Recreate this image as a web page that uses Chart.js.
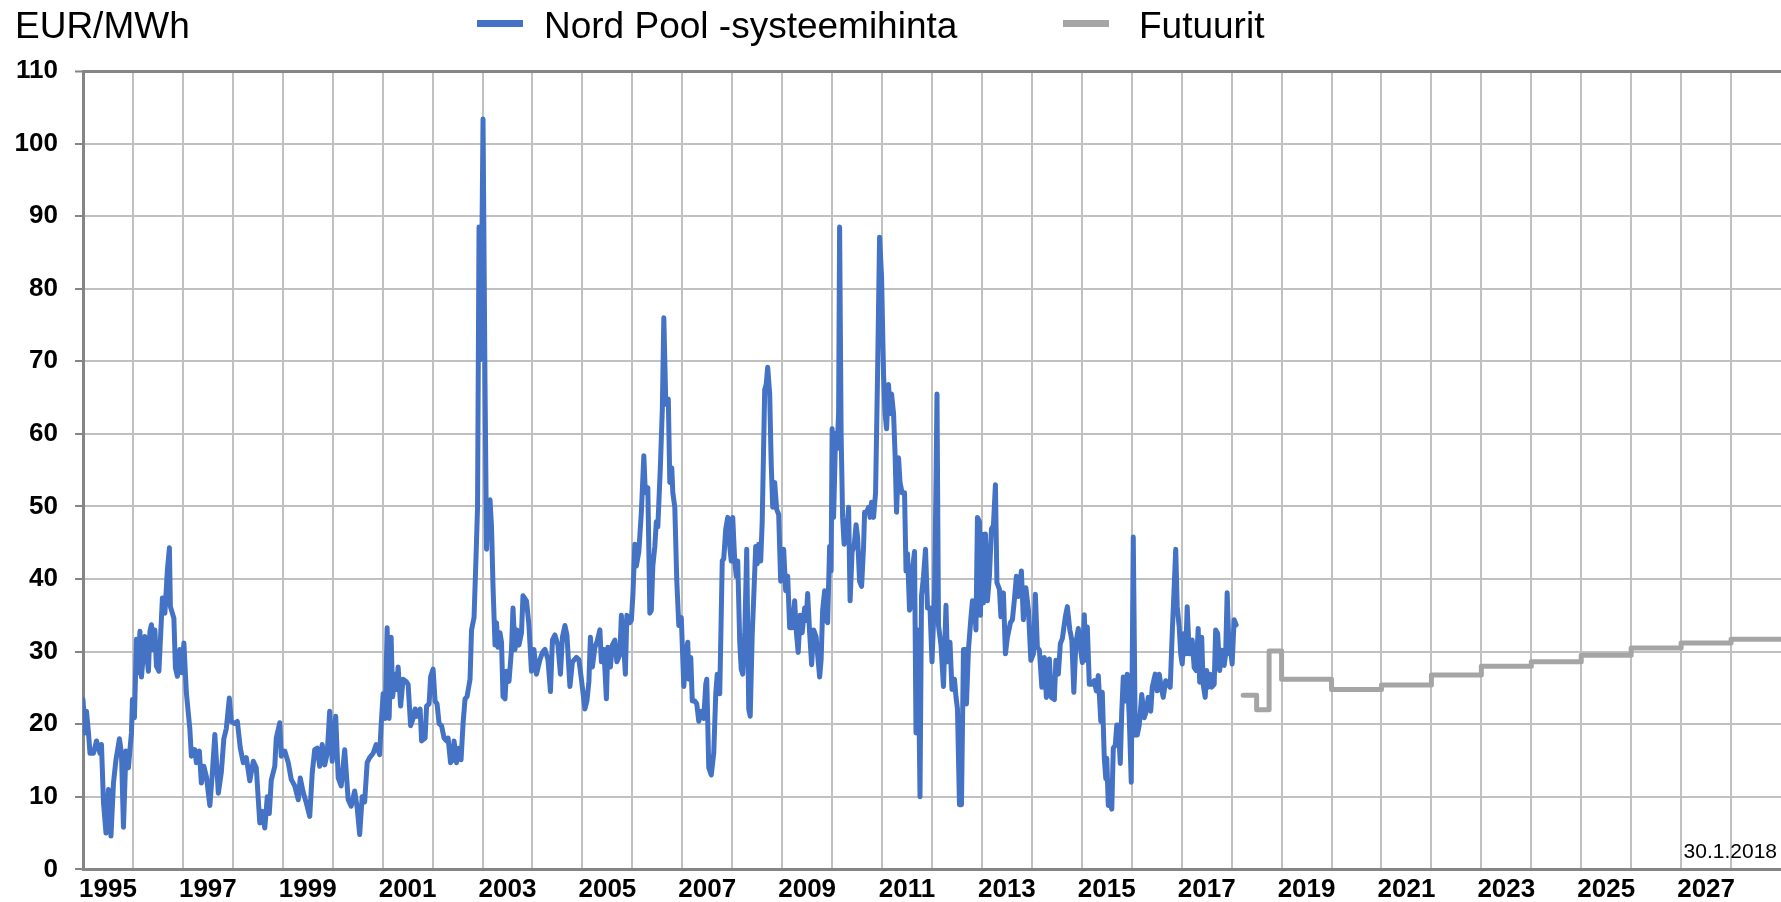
<!DOCTYPE html>
<html>
<head>
<meta charset="utf-8">
<script src="https://cdn.jsdelivr.net/npm/chart.js@4.4.1/dist/chart.umd.min.js"></script>
<style>
  body { margin: 0; background: #fff; }
  #wrap { position: relative; width: 1781px; height: 902px; font-family: 'Liberation Sans', Arial, sans-serif; }
  #chart { position: absolute; left: 0; top: 0; }
  .txt { position: absolute; white-space: nowrap; color: #000; }
  .big { font-size: 37px; line-height: 37px; top: 7px; }
  .swatch { position: absolute; top: 20px; width: 46px; height: 7px; }
  #date { font-size: 21px; line-height: 21px; top: 840px; right: 4px; }
</style>
</head>
<body>
<div id="wrap">
  <canvas id="chart" width="1781" height="902"></canvas>
  <div class="txt big" id="unit" style="left:15px">EUR/MWh</div>
  <div class="swatch" id="sw0" style="left:477px"></div>
  <div class="txt big" id="lg0" style="left:544px"></div>
  <div class="swatch" id="sw1" style="left:1063px"></div>
  <div class="txt big" id="lg1" style="left:1139px"></div>
  <div class="txt" id="date">30.1.2018</div>
</div>
<script>
// Series names and colours
const seriesNames = ['Nord Pool -systeemihinta', 'Futuurit'];
const seriesColors = ['#4472c4', '#a5a5a5'];

// Axis ticks
const yTicks = [0, 10, 20, 30, 40, 50, 60, 70, 80, 90, 100, 110];
const gridYears = [1995, 1996, 1997, 1998, 1999, 2000, 2001, 2002, 2003, 2004, 2005, 2006, 2007, 2008, 2009, 2010, 2011,
  2012, 2013, 2014, 2015, 2016, 2017, 2018, 2019, 2020, 2021, 2022, 2023, 2024, 2025, 2026, 2027, 2028];
const xTickLabels = ['1995', '1997', '1999', '2001', '2003', '2005', '2007', '2009', '2011', '2013', '2015', '2017',
  '2019', '2021', '2023', '2025', '2027'];

// Nord Pool system price, [year, EUR/MWh]
const spot1995 = [
  [1995.00,23.4],[1995.04,18.8],[1995.07,21.8],[1995.11,18.8],[1995.14,16.0],[1995.21,16.0],[1995.27,17.7],[1995.34,16.0],
  [1995.37,17.2],[1995.41,9.2],[1995.46,5.0],[1995.51,11.0],[1995.56,4.6],[1995.61,11.9],[1995.66,15.1],[1995.73,18.0],
  [1995.77,16.0],[1995.81,5.8],[1995.86,16.3],[1995.91,14.0],[1995.94,16.5],[1995.97,18.8],[1995.99,23.4],[1996.03,20.9],
  [1996.07,31.7],[1996.11,27.1],[1996.14,32.8],[1996.17,26.5],[1996.24,32.1],[1996.31,27.3],[1996.34,32.8],[1996.37,33.7],
  [1996.41,30.3],[1996.44,33.0],[1996.47,28.0],[1996.52,27.3],[1996.59,37.4],[1996.64,35.3],[1996.69,41.3],[1996.73,44.3],
  [1996.75,36.2],[1996.82,34.6],[1996.85,27.8],[1996.89,26.6],[1996.94,30.3],[1996.98,27.1],[1997.02,31.2],[1997.07,24.3],
  [1997.14,19.3],[1997.17,15.6],[1997.24,16.5],[1997.27,14.7],[1997.33,16.3],[1997.37,11.9],[1997.42,14.2],[1997.47,12.8],
  [1997.54,8.8],[1997.59,13.3],[1997.64,18.6],[1997.71,10.5],[1997.77,13.4],[1997.82,18.0],[1997.87,19.4],[1997.93,23.6],
  [1997.97,20.4],[1998.04,20.1],[1998.09,20.4],[1998.15,16.7],[1998.21,14.7],[1998.27,15.4],[1998.34,12.2],[1998.41,14.9],
  [1998.47,14.0],[1998.54,6.4],[1998.59,8.0],[1998.64,5.7],[1998.69,10.0],[1998.73,7.7],[1998.77,12.3],[1998.84,14.2],
  [1998.87,18.1],[1998.94,20.2],[1998.97,15.6],[1999.04,16.3],[1999.11,14.7],[1999.17,12.4],[1999.24,11.5],[1999.31,9.6],
  [1999.35,12.6],[1999.41,10.6],[1999.47,9.2],[1999.54,7.3],[1999.59,13.3],[1999.64,16.5],[1999.69,16.7],[1999.74,14.2],
  [1999.79,17.2],[1999.84,14.4],[1999.89,16.0],[1999.94,21.8],[1999.99,14.9],[2000.06,21.1],[2000.11,12.6],[2000.17,11.5],
  [2000.24,16.5],[2000.31,9.6],[2000.37,8.7],[2000.44,10.8],[2000.49,8.5],[2000.54,4.8],[2000.59,10.0],[2000.64,9.3],
  [2000.69,14.7],[2000.74,15.4],[2000.81,16.0],[2000.87,17.2],[2000.94,15.8],[2000.97,19.9]
];
const spot2001 = [
  [2001.01,24.2],[2001.05,20.8],[2001.09,33.3],[2001.13,20.8],[2001.17,32.0],[2001.20,23.8],[2001.25,26.9],[2001.28,24.8],
  [2001.31,27.9],[2001.36,22.5],[2001.41,26.2],[2001.47,25.9],[2001.51,25.5],[2001.56,19.8],[2001.61,20.8],[2001.65,22.1],
  [2001.69,21.1],[2001.75,22.1],[2001.78,17.7],[2001.85,18.1],[2001.88,22.5],[2001.93,22.8],[2001.96,26.5],[2002.01,27.6],
  [2002.05,23.2],[2002.09,22.8],[2002.13,20.1],[2002.18,19.8],[2002.23,18.1],[2002.28,17.7],[2002.31,18.1],[2002.36,14.7],
  [2002.40,15.1],[2002.43,17.7],[2002.48,14.7],[2002.52,16.7],[2002.57,15.1],[2002.61,20.1],[2002.65,23.5],[2002.69,23.8],
  [2002.75,26.2],[2002.78,33.0],[2002.83,34.7],[2002.87,43.1],[2002.90,49.9],[2002.93,88.5],[2002.95,70.2],[2002.98,81.0],
  [2003.01,103.4],[2003.05,66.8],[2003.08,44.1],[2003.11,50.6],[2003.15,50.9],[2003.18,47.2],[2003.21,39.0],[2003.25,30.9],
  [2003.28,34.0],[2003.31,30.6],[2003.35,32.6],[2003.38,31.3],[2003.41,23.8],[2003.45,23.5],[2003.48,27.3],[2003.53,25.9],
  [2003.58,30.3],[2003.61,36.0],[2003.65,30.3],[2003.69,33.0],[2003.73,30.9],[2003.78,32.6],[2003.81,37.7],[2003.88,37.0],
  [2003.93,33.6],[2003.98,27.3],[2004.03,30.3],[2004.08,26.9],[2004.15,28.9],[2004.20,29.9],[2004.25,30.3],[2004.31,28.9],
  [2004.36,24.5],[2004.40,31.6],[2004.45,32.3],[2004.51,30.9],[2004.56,26.9],[2004.60,32.0],[2004.65,33.6],[2004.69,32.3],
  [2004.75,25.2],[2004.80,28.6],[2004.88,29.2],[2004.93,28.9],[2004.98,26.2],[2005.05,22.1],[2005.09,23.2],[2005.13,25.9],
  [2005.16,32.0],[2005.20,27.9],[2005.25,30.6],[2005.29,31.3],[2005.35,33.0],[2005.38,28.6],[2005.43,30.3],[2005.48,23.5],
  [2005.51,30.6],[2005.56,27.9],[2005.60,30.9],[2005.65,31.6],[2005.69,28.6],[2005.75,29.6],[2005.78,35.0],[2005.83,30.6],
  [2005.86,26.9],[2005.89,35.0],[2005.95,34.0],[2005.98,34.3],[2006.01,37.7],[2006.05,44.8],[2006.08,41.8],[2006.13,43.8],
  [2006.18,49.2],[2006.23,57.0],[2006.26,51.9],[2006.31,52.6],[2006.35,35.3],[2006.38,35.7],[2006.41,41.8],[2006.45,44.5],
  [2006.48,47.9],[2006.51,47.2],[2006.56,55.3],[2006.60,63.4],[2006.63,76.0],[2006.67,64.1],[2006.72,64.8],[2006.75,53.3],
  [2006.79,55.3],[2006.81,51.9],[2006.85,49.9],[2006.89,39.7],[2006.93,33.6],[2006.98,34.7]
];
const spot2007 = [
  [2007.03,25.2],[2007.07,29.6],[2007.11,31.3],[2007.13,26.2],[2007.17,29.2],[2007.20,23.2],[2007.25,23.2],[2007.29,22.8],
  [2007.33,20.4],[2007.38,21.8],[2007.43,20.8],[2007.47,25.5],[2007.49,26.2],[2007.53,14.0],[2007.58,13.0],[2007.63,16.0],
  [2007.67,24.2],[2007.70,26.9],[2007.75,24.2],[2007.80,42.5],[2007.83,42.8],[2007.87,46.9],[2007.91,48.5],[2007.95,44.5],
  [2007.98,42.5],[2008.01,48.5],[2008.05,42.5],[2008.08,40.4],[2008.11,42.5],[2008.15,31.3],[2008.18,27.6],[2008.21,26.9],
  [2008.25,32.3],[2008.29,44.1],[2008.33,22.1],[2008.36,21.1],[2008.40,32.3],[2008.43,37.4],[2008.47,44.5],[2008.50,42.1],
  [2008.53,44.8],[2008.57,42.5],[2008.60,47.9],[2008.65,66.1],[2008.68,66.8],[2008.71,69.2],[2008.75,65.5],[2008.78,56.0],
  [2008.81,49.9],[2008.85,53.3],[2008.89,49.6],[2008.93,48.9],[2008.97,39.7],[2009.00,40.4],[2009.03,44.1],[2009.07,38.4],
  [2009.11,40.4],[2009.15,33.3],[2009.20,33.3],[2009.25,37.0],[2009.28,33.0],[2009.32,29.9],[2009.36,35.0],[2009.40,32.6],
  [2009.45,36.0],[2009.48,34.3],[2009.51,38.0],[2009.55,32.6],[2009.59,28.2],[2009.63,33.0],[2009.68,32.0],[2009.71,29.6],
  [2009.75,26.5],[2009.78,28.9],[2009.81,35.7],[2009.85,38.4],[2009.88,34.3],[2009.91,34.0],[2009.95,44.5],[2009.98,41.1],
  [2010.00,60.7],[2010.03,48.5],[2010.07,60.1],[2010.10,58.0],[2010.13,62.8],[2010.15,88.5],[2010.18,60.1],[2010.21,48.5],
  [2010.24,44.8],[2010.28,45.5],[2010.33,49.9],[2010.36,37.0],[2010.40,43.8],[2010.44,44.5],[2010.48,47.5],[2010.51,45.8],
  [2010.55,39.7],[2010.59,39.0],[2010.63,44.5],[2010.65,49.2],[2010.69,49.2],[2010.73,49.9],[2010.76,48.5],[2010.79,50.6],
  [2010.83,48.5],[2010.87,51.9],[2010.91,68.2],[2010.95,87.1],[2010.99,81.7],[2011.03,68.2],[2011.06,62.8],[2011.09,60.7],
  [2011.13,66.8],[2011.16,62.8],[2011.19,65.5],[2011.23,62.8],[2011.26,57.3],[2011.29,49.2],[2011.33,56.7],[2011.36,53.3],
  [2011.40,51.9],[2011.45,51.9],[2011.48,41.1],[2011.51,43.5],[2011.55,35.7],[2011.58,36.3],[2011.61,41.4],[2011.65,43.8],
  [2011.68,18.8],[2011.72,33.0],[2011.76,10.0],[2011.79,37.7],[2011.83,40.4],[2011.87,44.1],[2011.91,36.0],[2011.96,36.0],
  [2012.00,28.6],[2012.05,37.7],[2012.08,53.3],[2012.10,65.5],[2012.13,33.6],[2012.18,30.9],[2012.23,25.2],[2012.28,36.4],
  [2012.31,28.6],[2012.36,31.3],[2012.40,24.8],[2012.45,26.2],[2012.48,23.8],[2012.51,22.1],[2012.55,8.9],[2012.59,8.9],
  [2012.63,30.3],[2012.67,30.3],[2012.69,22.8],[2012.73,30.3],[2012.78,34.7],[2012.81,37.0],[2012.85,36.7],[2012.88,33.0],
  [2012.91,48.5],[2012.95,47.9],[2012.97,35.0],[2013.00,46.2],[2013.03,36.7],[2013.07,46.2],[2013.11,37.0]
];
const spot2013 = [
  [2013.15,40.4],[2013.19,46.9],[2013.23,47.4],[2013.27,53.0],[2013.30,39.5],[2013.35,38.6],[2013.38,34.8],[2013.43,38.1],
  [2013.47,29.7],[2013.51,32.0],[2013.57,34.0],[2013.61,34.4],[2013.65,37.2],[2013.69,40.4],[2013.73,37.6],[2013.79,41.1],
  [2013.83,34.4],[2013.88,38.8],[2013.93,35.8],[2013.98,28.8],[2014.03,29.7],[2014.07,37.9],[2014.11,30.6],[2014.15,30.2],
  [2014.20,25.1],[2014.25,29.2],[2014.29,23.7],[2014.35,29.0],[2014.39,23.7],[2014.45,23.4],[2014.48,28.8],[2014.53,26.9],
  [2014.57,31.1],[2014.61,31.8],[2014.67,34.8],[2014.71,36.2],[2014.76,33.0],[2014.80,31.6],[2014.84,24.4],[2014.88,31.1],
  [2014.93,33.2],[2014.97,30.6],[2015.01,28.5],[2015.05,35.1],[2015.08,28.8],[2015.11,33.4],[2015.15,25.5],[2015.19,25.5],
  [2015.25,26.0],[2015.29,24.6],[2015.33,26.7],[2015.38,20.4],[2015.41,24.4],[2015.45,15.3],[2015.48,12.5],[2015.50,15.3],
  [2015.53,8.8],[2015.56,9.7],[2015.60,8.3],[2015.63,16.7],[2015.67,17.1],[2015.70,19.9],[2015.73,19.9],[2015.77,14.6],
  [2015.80,21.8],[2015.83,26.5],[2015.87,23.2],[2015.91,26.9],[2015.95,20.9],[2015.99,12.0],[2016.03,45.8],[2016.07,18.5],
  [2016.11,18.5],[2016.15,19.9],[2016.20,24.1],[2016.25,20.9],[2016.29,21.8],[2016.33,23.7],[2016.38,21.8],[2016.41,25.1],
  [2016.47,26.9],[2016.51,24.6],[2016.55,26.9],[2016.59,25.1],[2016.63,23.7],[2016.68,26.0],[2016.73,25.5],[2016.77,25.1],
  [2016.81,32.5],[2016.85,39.0],[2016.88,44.1],[2016.91,36.2],[2016.95,33.4],[2016.98,29.7],[2017.01,28.3],[2017.05,32.5],
  [2017.08,29.7],[2017.11,36.2],[2017.15,29.7],[2017.18,29.7],[2017.21,31.6],[2017.25,27.8],[2017.29,27.4],[2017.33,33.2],
  [2017.36,25.8],[2017.40,32.0],[2017.43,25.5],[2017.47,23.7],[2017.50,27.4],[2017.53,25.1],[2017.57,26.9],[2017.60,25.1],
  [2017.65,25.5],[2017.68,33.0],[2017.72,32.5],[2017.76,27.4],[2017.80,30.2],[2017.85,28.1],[2017.88,29.7],[2017.91,38.1],
  [2017.95,29.7],[2017.98,30.2],[2018.01,28.3],[2018.05,34.4],[2018.09,33.7]
];

// Futures: period start and price (quarters for 2018, then calendar years)
const futureStarts = [2018.23, 2018.5, 2018.75, 2019, 2020, 2021, 2022, 2023, 2024, 2025, 2026, 2027, 2028, 2029];
const futurePrices = [24.0, 22.0, 30.1, 26.2, 24.8, 25.4, 26.8, 28.0, 28.6, 29.5, 30.5, 31.2, 31.7, 31.7];

const GRID = '#c0c0c0';
const AXIS = '#858585';
const tickFont = { family: "'Liberation Sans', Arial, sans-serif", size: 26, weight: 'bold' };

const spotData = [...spot1995, ...spot2001, ...spot2007, ...spot2013].map(p => ({ x: p[0], y: p[1] }));
const futureData = futureStarts.map((x, i) => ({ x, y: futurePrices[i] }));

// x ticks: one grid line per year, labels in the middle of every second year
const labelPos = xTickLabels.map(l => parseInt(l, 10) + 0.5);
const xTickValues = [...gridYears, ...labelPos].sort((a, b) => a - b);

// HTML legend
document.getElementById('sw0').style.background = seriesColors[0];
document.getElementById('sw1').style.background = seriesColors[1];
document.getElementById('lg0').textContent = seriesNames[0];
document.getElementById('lg1').textContent = seriesNames[1];

new Chart(document.getElementById('chart'), {
  type: 'line',
  data: {
    datasets: [
      {
        label: seriesNames[0],
        data: spotData,
        borderColor: seriesColors[0],
        borderWidth: 5,
        pointRadius: 0,
        tension: 0,
        borderJoinStyle: 'round',
        borderCapStyle: 'round'
      },
      {
        label: seriesNames[1],
        data: futureData,
        borderColor: seriesColors[1],
        borderWidth: 5,
        pointRadius: 0,
        stepped: 'before',
        borderJoinStyle: 'round',
        borderCapStyle: 'round'
      }
    ]
  },
  options: {
    responsive: false,
    animation: false,
    layout: { padding: { top: 71, left: 0, right: 0, bottom: 0 } },
    plugins: { legend: { display: false }, tooltip: { enabled: false } },
    scales: {
      x: {
        type: 'linear',
        min: 1995,
        max: 2029,
        afterBuildTicks: s => { s.ticks = xTickValues.map(v => ({ value: v })); },
        afterFit: s => { s.height = 32; },
        grid: {
          color: c => (c.tick && c.tick.value % 1 === 0) ? GRID : 'rgba(0,0,0,0)',
          lineWidth: 2,
          drawTicks: false
        },
        border: { display: true, color: AXIS, width: 3 },
        ticks: {
          autoSkip: false,
          maxRotation: 0,
          padding: 5,
          color: '#000',
          font: tickFont,
          callback: v => {
            const i = labelPos.indexOf(v);
            return i >= 0 ? xTickLabels[i] : '';
          }
        }
      },
      y: {
        min: 0,
        max: 110,
        afterBuildTicks: s => { s.ticks = yTicks.map(v => ({ value: v })); },
        afterFit: s => { s.width = 83; },
        grid: {
          color: c => (c.tick && c.tick.value === 110) ? AXIS : GRID,
          lineWidth: c => (c.tick && c.tick.value === 110) ? 3 : 2,
          tickLength: 8,
          tickColor: AXIS,
          tickWidth: 2
        },
        border: { display: true, color: AXIS, width: 3 },
        ticks: { padding: 17, color: '#000', font: tickFont }
      }
    }
  }
});
</script>
</body>
</html>
